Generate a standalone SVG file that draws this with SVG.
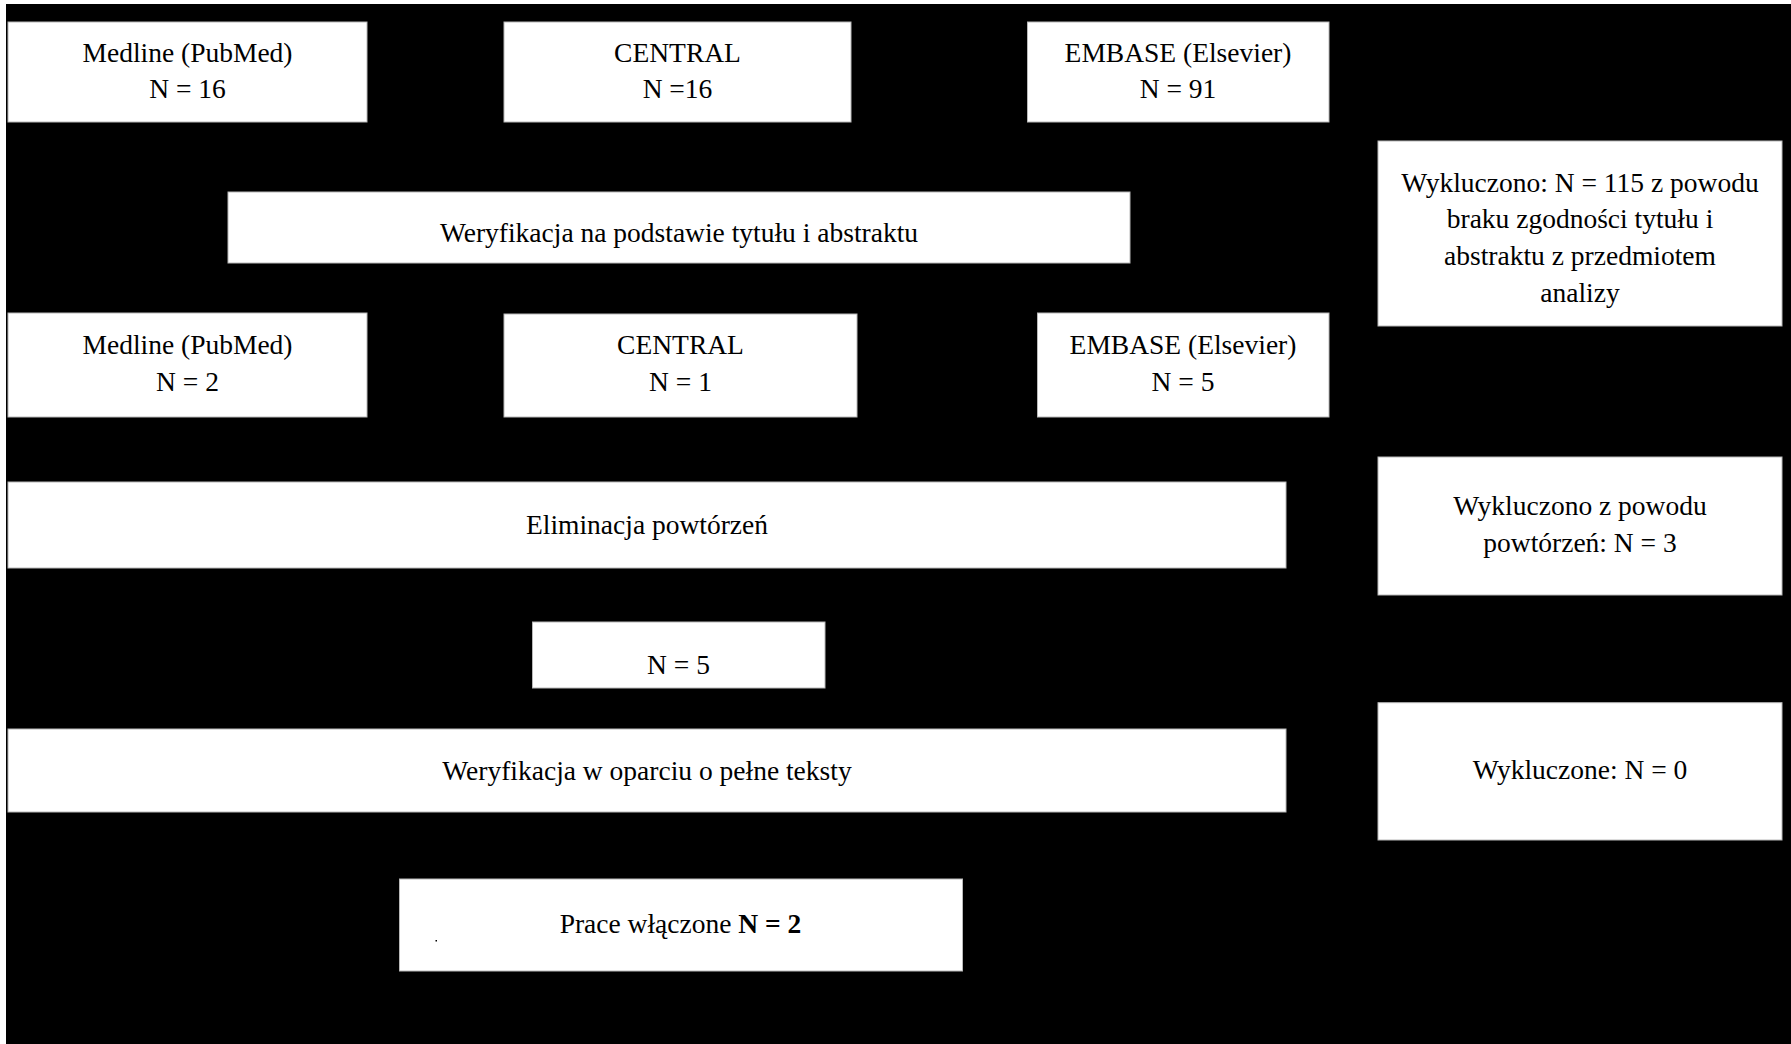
<svg xmlns="http://www.w3.org/2000/svg" width="1791" height="1044" viewBox="0 0 1791 1044">
<defs>
<style>
.box{fill:#ffffff;stroke:#b8b8b8;stroke-width:1}
.t{font-family:"Liberation Serif","Times New Roman",serif;font-size:27.5px;fill:#000000;text-anchor:middle}
.b{font-weight:bold}
.conn{fill:none;stroke:#000000;stroke-width:1.5}
</style>
<marker id="arr" viewBox="0 0 10 10" refX="10" refY="5" markerWidth="7" markerHeight="7" orient="auto">
<path d="M0 0 L10 5 L0 10 z" fill="#000000"/>
</marker>
</defs>
<rect x="0" y="0" width="1791" height="1044" fill="#ffffff"/>
<rect id="background" x="6" y="4" width="1785" height="1040" fill="#000000"/>

<g id="connectors">
<path class="conn" d="M187.5 122 V157 H679"/>
<path class="conn" d="M1178 122 V157 H679"/>
<path class="conn" d="M677.5 122 V157 H679 V192" marker-end="url(#arr)"/>
<path class="conn" d="M1130 227.5 H1378" marker-end="url(#arr)"/>
<path class="conn" d="M679 263 V290"/>
<path class="conn" d="M679 290 H187.5 V313" marker-end="url(#arr)"/>
<path class="conn" d="M679 290 H680.5 V314" marker-end="url(#arr)"/>
<path class="conn" d="M679 290 H1183 V313" marker-end="url(#arr)"/>
<path class="conn" d="M187.5 417 V450 H647"/>
<path class="conn" d="M1183 417 V450 H647"/>
<path class="conn" d="M680.5 417 V450 H647 V482" marker-end="url(#arr)"/>
<path class="conn" d="M1286 525 H1378" marker-end="url(#arr)"/>
<path class="conn" d="M679 568 V622" marker-end="url(#arr)"/>
<path class="conn" d="M678.5 688 V729" marker-end="url(#arr)"/>
<path class="conn" d="M1286 770.5 H1378" marker-end="url(#arr)"/>
<path class="conn" d="M680.5 812 V879" marker-end="url(#arr)"/>
</g>

<g id="medline1">
<rect class="box" x="8" y="22" width="359" height="100"/>
<text class="t" x="187.5" y="61.7">Medline (PubMed)</text>
<text class="t" x="187.5" y="98.3">N = 16</text>
</g>
<g id="central1">
<rect class="box" x="504" y="22" width="347" height="100"/>
<text class="t" x="677.5" y="61.7">CENTRAL</text>
<text class="t" x="677.5" y="98.3">N =16</text>
</g>
<g id="embase1">
<rect class="box" x="1027.5" y="22" width="301.5" height="100"/>
<text class="t" x="1178" y="61.7">EMBASE (Elsevier)</text>
<text class="t" x="1178" y="98.3">N = 91</text>
</g>
<g id="screening-title">
<rect class="box" x="228" y="192" width="902" height="71"/>
<text class="t" x="679" y="242">Weryfikacja na podstawie tytułu i abstraktu</text>
</g>
<g id="excluded-115">
<rect class="box" x="1378" y="141" width="404" height="185"/>
<text class="t" x="1580" y="191.7">Wykluczono: N = 115 z powodu</text>
<text class="t" x="1580" y="228.3">braku zgodności tytułu i</text>
<text class="t" x="1580" y="265">abstraktu z przedmiotem</text>
<text class="t" x="1580" y="301.7">analizy</text>
</g>
<g id="medline2">
<rect class="box" x="8" y="313" width="359" height="104"/>
<text class="t" x="187.5" y="354">Medline (PubMed)</text>
<text class="t" x="187.5" y="390.7">N = 2</text>
</g>
<g id="central2">
<rect class="box" x="504" y="314" width="353" height="103"/>
<text class="t" x="680.5" y="354">CENTRAL</text>
<text class="t" x="680.5" y="390.7">N = 1</text>
</g>
<g id="embase2">
<rect class="box" x="1037.5" y="313" width="291.5" height="104"/>
<text class="t" x="1183" y="354">EMBASE (Elsevier)</text>
<text class="t" x="1183" y="390.7">N = 5</text>
</g>
<g id="deduplication">
<rect class="box" x="8" y="482" width="1278" height="86"/>
<text class="t" x="647" y="534">Eliminacja powtórzeń</text>
</g>
<g id="excluded-duplicates">
<rect class="box" x="1378" y="457" width="404" height="138"/>
<text class="t" x="1580" y="515">Wykluczono z powodu</text>
<text class="t" x="1580" y="551.7">powtórzeń: N = 3</text>
</g>
<g id="after-dedup">
<rect class="box" x="532.5" y="622" width="292.5" height="66"/>
<text class="t" x="678.5" y="674">N = 5</text>
</g>
<g id="fulltext">
<rect class="box" x="8" y="729" width="1278" height="83"/>
<text class="t" x="647" y="780">Weryfikacja w oparciu o pełne teksty</text>
</g>
<g id="excluded-fulltext">
<rect class="box" x="1378" y="702.7" width="404" height="137.3"/>
<text class="t" x="1580" y="779.3">Wykluczone: N = 0</text>
</g>
<g id="included">
<rect class="box" x="399.5" y="879" width="563" height="92"/>
<text class="t" x="680.5" y="933">Prace włączone <tspan class="b">N = 2</tspan></text>
<rect x="435.5" y="940" width="1.5" height="1.5" fill="#000000"/>
</g>
</svg>
